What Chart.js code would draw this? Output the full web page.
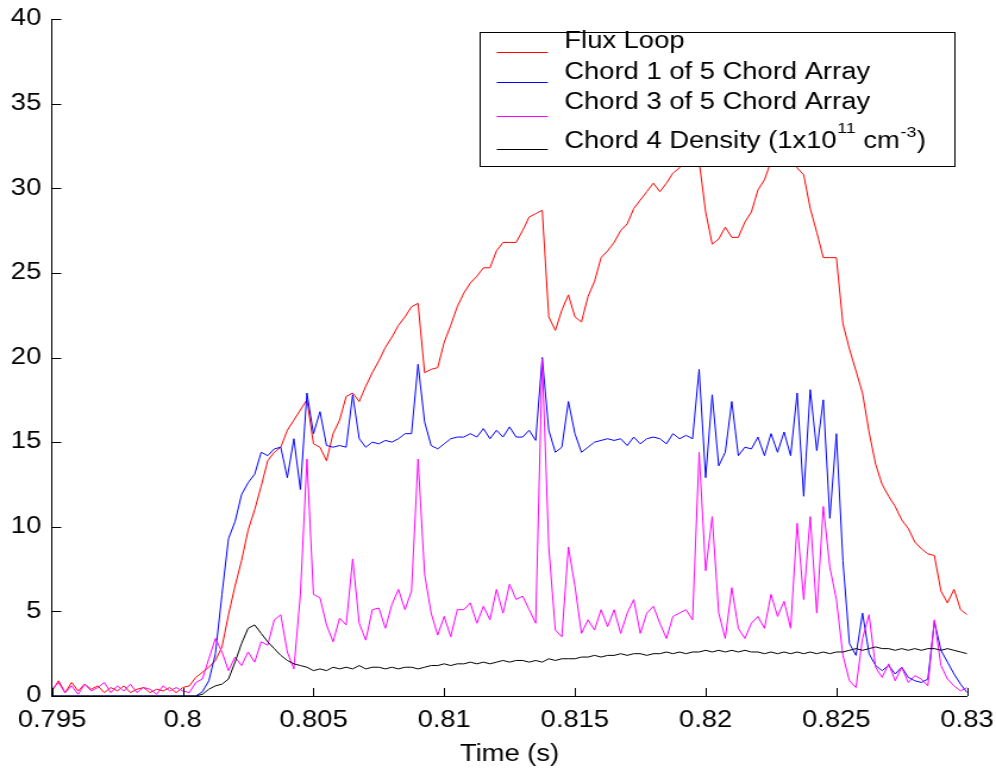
<!DOCTYPE html>
<html>
<head>
<meta charset="utf-8">
<script src="https://cdn.jsdelivr.net/npm/chart.js@4.4.0/dist/chart.umd.min.js"></script>
<style>
html,body{margin:0;padding:0;background:#fff;overflow:hidden;width:996px;height:768px}
#wrap{position:absolute;left:0;top:0;width:837px;height:768px;transform:scaleX(1.18996);transform-origin:0 0}
#c{display:block}
</style>
</head>
<body>
<div id="wrap"><canvas id="c" width="837" height="768"></canvas></div>
<script>
// ---- data (time grid: 0.795 s .. 0.83 s, every 0.25 ms) ----
const T_START = 0.795;
const T_STEP = 0.00025;

const fluxLoop = [
0.3,0.9,0.2,0.8,0.3,0.7,0.4,0.6,0.2,0.5,
0.3,0.6,0.2,0.4,0.5,0.2,0.4,0.3,0.5,0.2,
0.5,0.6,1.1,1.4,1.7,2.1,2.9,4.8,6.5,8.0,
9.8,11.0,12.4,13.9,14.4,14.7,15.7,16.3,16.9,17.5,
14.9,14.7,13.9,15.5,16.3,17.7,17.9,17.4,18.3,19.1,
19.8,20.6,21.2,21.9,22.4,23.0,23.2,19.1,19.3,19.4,
20.9,21.9,23.0,23.8,24.4,24.8,25.3,25.3,26.3,26.8,
26.8,26.8,27.5,28.3,28.5,28.7,22.4,21.6,22.8,23.7,
22.4,22.1,23.6,24.5,25.9,26.3,26.8,27.5,27.9,28.8,
29.3,29.8,30.3,29.8,30.3,30.9,31.2,32.0,32.2,31.6,
28.6,26.7,27.0,27.7,27.1,27.1,28.0,28.6,29.9,30.5,
31.6,32.2,32.5,32.0,31.2,30.8,28.8,27.4,25.9,25.9,
25.9,22.0,20.5,19.2,17.9,15.6,13.7,12.5,11.8,11.2,
10.4,9.9,9.1,8.7,8.4,8.3,6.2,5.5,6.3,5.1,
4.8
];

const chord1 = [
0,0,0,0,0,0,0,0,0,0,
0,0,0,0,0,0,0,0,0,0,
0,0,0,0.25,0.9,2.5,6.0,9.3,10.3,11.9,
12.6,13.1,14.4,14.2,14.6,14.7,12.9,15.2,12.2,17.9,
15.5,16.8,14.8,14.7,14.8,14.7,17.8,15.2,14.7,15.0,
14.9,15.1,15.0,15.2,15.5,15.5,19.6,16.2,14.8,14.6,
14.9,15.2,15.3,15.3,15.5,15.3,15.8,15.2,15.7,15.3,
15.9,15.3,15.3,15.7,15.1,20.0,15.7,14.4,14.7,17.4,
15.5,14.4,14.7,15.0,15.1,15.2,15.1,15.2,14.8,15.3,
14.9,15.2,15.3,15.2,14.9,15.5,15.2,15.4,15.2,19.3,
12.9,17.8,13.6,14.4,17.4,14.2,14.7,14.6,15.3,14.2,
15.5,14.4,15.6,14.2,17.9,11.8,18.1,14.5,17.5,10.5,
15.5,8.0,3.1,2.4,4.9,2.5,1.8,1.5,1.8,1.3,
1.7,1.1,0.9,0.8,1.0,4.4,2.7,2.0,1.3,0.7,
0.2
];

const chord3 = [
0.4,0.8,0.2,0.6,0.1,0.7,0.3,0.5,0.8,0.2,
0.6,0.3,0.7,0.2,0.5,0.4,0.1,0.6,0.3,0.5,
0.3,0.2,0.8,1.0,2.2,3.4,2.6,1.5,2.3,1.8,
2.6,2.0,3.2,3.0,4.5,4.8,2.6,1.6,6.0,14.0,
6.0,5.8,4.2,3.2,4.6,4.2,8.1,4.3,3.3,5.1,
5.2,4.0,5.4,6.3,5.1,6.2,14.0,7.2,4.9,3.6,
4.7,3.5,5.1,5.1,5.5,4.3,5.3,4.5,6.3,4.9,
6.6,5.7,5.9,5.1,4.3,19.9,8.8,3.9,3.5,8.8,
6.5,3.7,4.5,3.9,5.1,4.1,5.1,3.7,4.9,5.7,
3.7,4.9,5.3,4.3,3.4,4.7,4.9,5.1,4.5,14.4,
7.4,10.6,4.9,3.4,6.4,4.0,3.4,4.3,4.7,4.0,
6.0,4.7,5.6,4.0,10.2,5.7,10.6,4.9,11.2,7.6,
5.7,2.4,0.9,0.5,3.4,4.8,1.7,1.1,1.9,0.9,
1.7,0.8,1.2,1.0,0.6,4.5,1.8,1.0,0.6,0.3,
0.5
];

const density4 = [
0,0,0,0,0,0,0,0,0,0,
0,0,0,0,0,0,0,0,0,0,
0,0,0,0.1,0.4,0.6,0.7,1.0,2.0,3.1,
4.0,4.2,3.7,3.2,2.8,2.4,2.1,1.9,1.8,1.7,
1.5,1.6,1.5,1.7,1.6,1.7,1.6,1.8,1.6,1.7,
1.7,1.6,1.7,1.6,1.7,1.7,1.6,1.7,1.8,1.8,
1.9,1.8,1.9,1.9,2.0,1.9,2.0,1.9,2.0,2.1,
2.0,2.1,2.1,2.0,2.1,2.0,2.2,2.1,2.2,2.2,
2.2,2.3,2.3,2.4,2.3,2.4,2.4,2.5,2.4,2.5,
2.5,2.4,2.5,2.5,2.6,2.5,2.6,2.5,2.6,2.6,
2.7,2.6,2.7,2.6,2.7,2.6,2.7,2.6,2.6,2.5,
2.6,2.5,2.6,2.5,2.6,2.5,2.6,2.5,2.6,2.5,
2.6,2.6,2.7,2.8,2.7,2.8,2.9,2.8,2.8,2.7,
2.8,2.7,2.8,2.7,2.8,2.8,2.7,2.8,2.7,2.6,
2.5
];

const xTickValues = [0.795,0.8,0.805,0.81,0.815,0.82,0.825,0.83];
const xTickLabels = ['0.795','0.8','0.805','0.81','0.815','0.82','0.825','0.83'];
const yTickValues = [0,5,10,15,20,25,30,35,40];
const yTickLabels = ['0','5','10','15','20','25','30','35','40'];

const seriesNames = ['Flux Loop','Chord 1 of 5 Chord Array','Chord 3 of 5 Chord Array','Chord 4 Density (1x10'];
const seriesColors = ['#ff0000','#0000ff','#ff00ff','#000000'];
const xAxisTitle = 'Time (s)';

// ---- build ----
const times = fluxLoop.map((_, i) => +(T_START + i * T_STEP).toFixed(5));
const toPts = arr => arr.map((v, i) => ({x: times[i], y: v}));
const seriesData = [fluxLoop, chord1, chord3, density4];

const FONT = "'Liberation Sans', Arial, Helvetica, sans-serif";
const S = 996 / 837; // horizontal stretch of the figure

const insideTicks = {
  id: 'insideTicks',
  afterDatasetsDraw(chart) {
    const {ctx, chartArea: a, scales: {x, y}} = chart;
    ctx.save();
    ctx.strokeStyle = '#000';
    ctx.lineWidth = 1;
    ctx.beginPath();
    xTickValues.forEach(v => {
      const p = Math.round(x.getPixelForValue(v)) + 0.5;
      ctx.moveTo(p, a.bottom);
      ctx.lineTo(p, a.bottom - 8);
    });
    yTickValues.forEach(v => {
      const p = Math.round(y.getPixelForValue(v)) + 0.5;
      ctx.moveTo(a.left, p);
      ctx.lineTo(a.left + 7.8, p);
    });
    ctx.stroke();
    ctx.restore();
  }
};

const boxLegend = {
  id: 'boxLegend',
  afterDraw(chart) {
    const ctx = chart.ctx;
    const L = {x0: 479 / S, x1: 953.3 / S, y0: 32.3, y1: 166.7,
               lx0: 496.7 / S, lx1: 547.7 / S, tx: 564.3 / S,
               lineY: [51.7, 82.3, 116, 149], baseY: [48.3, 79.3, 109.3, 148.3]};
    ctx.save();
    ctx.fillStyle = '#fff';
    ctx.fillRect(L.x0, L.y0, L.x1 - L.x0, L.y1 - L.y0);
    ctx.strokeStyle = '#000';
    ctx.lineWidth = 1;
    ctx.strokeRect(Math.round(L.x0) + 0.5, Math.round(L.y0) + 0.5, Math.round(L.x1 - L.x0), Math.round(L.y1 - L.y0));
    ctx.textBaseline = 'alphabetic';
    ctx.textAlign = 'left';
    seriesNames.forEach((name, i) => {
      ctx.strokeStyle = seriesColors[i];
      ctx.beginPath();
      ctx.moveTo(L.lx0, Math.round(L.lineY[i]) + 0.5);
      ctx.lineTo(L.lx1, Math.round(L.lineY[i]) + 0.5);
      ctx.stroke();
      ctx.fillStyle = '#000';
      ctx.font = '23px ' + FONT;
      let xx = L.tx;
      ctx.fillText(name, xx, L.baseY[i]);
      if (i === 3) {
        xx += ctx.measureText(name).width + 0.5;
        ctx.font = '15px ' + FONT;
        ctx.fillText('11', xx, L.baseY[i] - 15.5);
        xx += ctx.measureText('11').width;
        ctx.font = '23px ' + FONT;
        ctx.fillText(' cm', xx, L.baseY[i]);
        xx += ctx.measureText(' cm').width + 0.5;
        ctx.font = '15px ' + FONT;
        ctx.fillText('-3', xx, L.baseY[i] - 11.5);
        xx += ctx.measureText('-3').width + 0.5;
        ctx.font = '23px ' + FONT;
        ctx.fillText(')', xx, L.baseY[i]);
      }
    });
    ctx.restore();
  }
};

Chart.defaults.color = '#000';
Chart.defaults.font.family = FONT;
Chart.defaults.font.size = 23;

new Chart(document.getElementById('c'), {
  type: 'line',
  data: {
    datasets: seriesData.map((arr, i) => ({
      label: seriesNames[i],
      data: toPts(arr),
      borderColor: seriesColors[i],
      backgroundColor: seriesColors[i],
      borderWidth: 1,
      pointRadius: 0,
      tension: 0,
      fill: false,
      order: 4 - i
    }))
  },
  options: {
    responsive: false,
    animation: false,
    devicePixelRatio: 1,
    layout: {padding: {top: 19, right: 837 - 967.1 / S, left: 0, bottom: 0}},
    plugins: {legend: {display: false}, tooltip: {enabled: false}, title: {display: false}},
    scales: {
      x: {
        type: 'linear',
        min: 0.795, max: 0.83,
        grid: {display: false, drawTicks: false},
        border: {display: true, color: '#000', width: 1},
        afterBuildTicks: s => { s.ticks = xTickValues.map(v => ({value: v})); },
        afterFit: s => { s.height = 72; s.paddingLeft = 0; s.paddingRight = 0; },
        ticks: {
          autoSkip: false, maxRotation: 0, minRotation: 0, padding: 11,
          color: '#000', font: {size: 23, family: FONT},
          callback: (v, i) => xTickLabels[i]
        },
        title: {display: true, text: xAxisTitle, color: '#000', font: {size: 23, family: FONT}, padding: {top: 0, bottom: 0}}
      },
      y: {
        type: 'linear',
        min: 0, max: 40,
        grid: {display: false, drawTicks: false},
        border: {display: true, color: '#000', width: 1},
        afterBuildTicks: s => { s.ticks = yTickValues.map(v => ({value: v})); },
        afterFit: s => { s.width = 52 / S; s.paddingTop = 0; s.paddingBottom = 0; },
        ticks: {
          autoSkip: false, padding: 9,
          color: '#000', font: {size: 23, family: FONT},
          callback: (v, i) => yTickLabels[i]
        }
      }
    }
  },
  plugins: [insideTicks, boxLegend]
});
</script>
</body>
</html>
